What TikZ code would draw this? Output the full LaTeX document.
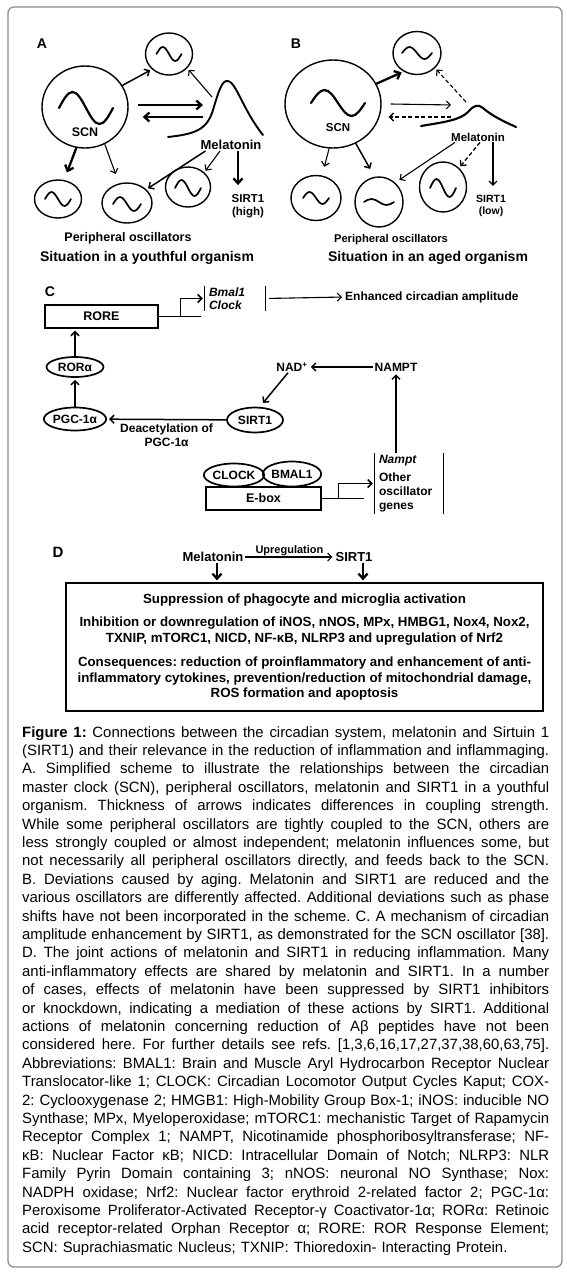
\documentclass[tikz,border=0pt]{standalone}
\usepackage{fontspec}
\setmainfont{Liberation Sans}
\frenchspacing
\usetikzlibrary{calc,arrows.meta,shapes.geometric,positioning}
\tikzset{
  lbl/.style={font=\bfseries\fontsize{12}{14}\selectfont, inner sep=1pt},
  title/.style={font=\bfseries\fontsize{14}{16}\selectfont, inner sep=1pt},
  osc/.style={ellipse, draw=black, line width=1.4pt, inner sep=0pt},
  wave/.style={line width=1.7pt, line cap=round},
  curve/.style={line width=1.9pt, line cap=round},
  arr/.style={-{Straight Barb[length=4pt,width=8pt]}, line width=1.5pt, shorten >=2pt},
  arr-thin/.style={arr, line width=1.1pt},
  arr-thick/.style={-{Straight Barb[length=5pt,width=9pt]}, line width=2.3pt, shorten >=2pt},
  arr-dash/.style={arr-thin, dash pattern=on 4pt off 2.5pt},
  genebox/.style={draw=black, line width=1.4pt, inner sep=0pt, font=\bfseries\fontsize{12.5}{14}\selectfont},
  prot/.style={ellipse, draw=black, line width=1.7pt, inner sep=0pt, font=\bfseries\fontsize{12}{14}\selectfont},
  bracket/.style={line width=1.2pt}
}
\newcommand{\oscwave}[4][]{% centre, half width, amplitude
  \draw[wave,#1] ($(#2)+(-#3,0)$) sin ++(#3/2,-#4) cos ++(#3/2,#4) sin ++(#3/2,#4) cos ++(#3/2,-#4);
}
\newcommand{\capline}[1]{\makebox[527pt][s]{\spaceskip=0.278em plus 1em minus 0.03em\relax #1}}

\begin{document}
\begin{tikzpicture}[x=1pt,y=-1pt]
  \useasboundingbox (0,0) rectangle (566,1272);
  % outer frame
  \draw[draw=black!45, line width=1.3pt, rounded corners=6pt] (8,7) rectangle (562,1267);

  % Panel A: youthful organism
  \node[title] (labA) at (42,44) {A};
  \node[osc, minimum width=86pt, minimum height=82pt] (scnA) at (85,107) {};
  \oscwave[line width=2.2pt]{86,108}{27}{16}
  \node[lbl, font=\bfseries\fontsize{12.5}{14}\selectfont] (scnAtxt) at (85,132) {SCN};
  \node[osc, minimum width=47pt, minimum height=42pt] (topA) at (169,54) {};
  \oscwave{169,54}{12.5}{7}
  \node[osc, minimum width=47pt, minimum height=38pt] (lowA1) at (58,199) {};
  \oscwave{58,199}{13}{7}
  \node[osc, minimum width=50pt, minimum height=40pt] (lowA2) at (127,203) {};
  \oscwave{127,204}{14}{7}
  \node[osc, minimum width=45pt, minimum height=40pt] (lowA3) at (188,187) {};
  \oscwave{188,188}{13}{8}
  % melatonin rhythm
  \draw[curve] (168,137) .. controls (195,134) and (207,130) .. (213,110)
    .. controls (219,90) and (222,80) .. (228,81) .. controls (236,82) and (243,110) .. (263,135);
  \coordinate (mcurveA-in) at (205,105);
  \coordinate (mcurveA-out) at (203,117);
  \coordinate (mcurveA-pk) at (212,97);
  \node[lbl, font=\bfseries\fontsize{13}{15}\selectfont] (melA) at (231,145) {Melatonin};
  \node[lbl, font=\bfseries\fontsize{11.5}{13}\selectfont, align=center] (sirtA) at (248,206) {SIRT1\\(high)};
  \node[lbl, font=\bfseries\fontsize{12.5}{14}\selectfont] (periA) at (128,238) {Peripheral oscillators};
  \node[title] (sitA) at (147,258) {Situation in a youthful organism};
  % couplings
  \draw[arr] (scnA.30) -- (topA.222);
  \draw[arr-thick] ($(scnA.east)+(9,-2)$) -- (mcurveA-in);
  \draw[arr-thick] (mcurveA-out) -- ($(scnA.east)+(12,10)$);
  \draw[arr-thin] (mcurveA-pk) -- (topA.-38);
  \draw[arr-thick, shorten >=8pt] (scnA.258) -- (lowA1.72);
  \draw[arr-thin, shorten >=10pt] (scnA.-62) -- (lowA2.112);
  \draw[arr] ([xshift=6pt]melA.south west) -- (lowA2.35);
  \draw[arr-thin] ([xshift=-11pt]melA.south) -- (lowA3.42);
  \draw[arr-thick, shorten >=8pt] ([xshift=7pt]melA.south) -- ([xshift=7pt]melA.south |- sirtA.north);

  % Panel B: aged organism
  \node[title] (labB) at (296,44) {B};
  \node[osc, minimum width=96pt, minimum height=88pt] (scnB) at (333,104) {};
  \oscwave[line width=2.2pt]{338,103}{27}{13}
  \node[lbl, font=\bfseries\fontsize{11.5}{13}\selectfont] (scnBtxt) at (338,128) {SCN};
  \node[osc, minimum width=48pt, minimum height=43pt] (topB) at (417,53) {};
  \oscwave{417,53}{15}{6}
  \node[osc, minimum width=50pt, minimum height=45pt] (lowB1) at (316,198) {};
  \oscwave{316,198}{13}{6}
  \node[osc, minimum width=48pt, minimum height=50pt] (lowB2) at (379,202) {};
  \oscwave{379,202}{15}{3}
  \node[osc, minimum width=47pt, minimum height=50pt] (lowB3) at (443,187) {};
  \oscwave{443,188}{13}{9}
  % damped melatonin rhythm
  \draw[curve, line width=2.1pt] (421,126) .. controls (445,122) and (460,120) .. (468,112)
    .. controls (474,105) and (478,104) .. (483,108) .. controls (492,116) and (505,122) .. (516,127);
  \coordinate (mcurveB-in) at (453,105);
  \coordinate (mcurveB-out) at (451,117);
  \coordinate (mcurveB-pk) at (466,102);
  \node[lbl, font=\bfseries\fontsize{11.5}{13}\selectfont] (melB) at (478,137) {Melatonin};
  \node[lbl, font=\bfseries\fontsize{10.5}{12.5}\selectfont, align=center] (sirtB) at (491,206) {SIRT1\\(low)};
  \node[lbl, font=\bfseries\fontsize{11.2}{13}\selectfont] (periB) at (391,240) {Peripheral oscillators};
  \node[title] (sitB) at (428,258) {Situation in an aged organism};
  % weakened couplings
  \draw[arr-thick] (scnB.25) -- (topB.234);
  \draw[arr-dash] (mcurveB-pk) -- (topB.-40);
  \draw[arr-thin] ([xshift=9pt]scnB.east) -- (mcurveB-in);
  \draw[arr-dash, line width=1.4pt] (mcurveB-out) -- ($(scnB.east)+(5,13)$);
  \draw[arr-thin, shorten >=9pt] (scnB.265) -- (lowB1.75);
  \draw[arr, shorten >=9pt] (scnB.-60) -- (lowB2.100);
  \draw[arr-thin, shorten >=5pt] ([xshift=5pt]melB.south west) -- (lowB2.50);
  \draw[arr-dash, line width=1.3pt] ([xshift=2pt]melB.south) -- (lowB3.50);
  \draw[arr-thin, shorten >=8pt] ([xshift=15pt]melB.south) -- ([xshift=15pt]melB.south |- sirtB.north);

  % Panel C: SIRT1 and circadian amplitude
  \node[title] (labC) at (50,292) {C};
  \node[genebox, minimum width=113pt, minimum height=23pt] (rore) at (101.5,316.5) {RORE};
  \node[lbl, font=\bfseries\itshape\fontsize{12}{13}\selectfont, align=left, text width=52pt, inner xsep=4pt, inner ysep=1.5pt] (bmal) at (235,298.5) {Bmal1\\Clock};
  \draw[bracket] (bmal.north west) -- (bmal.south west);
  \draw[bracket] (bmal.north east) -- (bmal.south east);
  \node[lbl, anchor=west] (ampl) at (344,297) {Enhanced circadian amplitude};
  \draw[line width=1.4pt] (rore.east) -- ++(42,0);
  \draw[arr] ($(rore.east)+(22,0)$) |- (bmal.west);
  \draw[arr-thin, shorten <=4pt] (bmal.east) -- (ampl.west);
  \node[prot, minimum width=57pt, minimum height=20pt] (rora) at (75,367) {RORα};
  \node[prot, minimum width=60pt, minimum height=23pt] (pgc) at (75,419) {PGC-1α};
  \node[prot, minimum width=56pt, minimum height=25pt] (sirtC) at (255,420) {SIRT1};
  \node[lbl] (nad) at (292,367) {NAD\textsuperscript{+}};
  \node[lbl] (nampt) at (396,367) {NAMPT};
  \draw[arr] (pgc) -- (rora);
  \draw[arr] (rora.north) -- (rora.north |- rore.south);
  \draw[arr] (sirtC) -- node[lbl, below=3pt, align=center] (deac) {Deacetylation of\\PGC-1α} (pgc);
  \draw[arr] (nampt) -- (nad);
  \draw[arr, shorten >=5pt] ([xshift=-4pt]nad.south) -- (sirtC.70);
  \node[genebox, minimum width=115pt, minimum height=23pt] (ebox) at (263.5,498.5) {E-box};
  \node[prot, minimum width=52pt, minimum height=23pt] (clock) at (234,475) {CLOCK};
  \node[prot, minimum width=58pt, minimum height=25pt] (bmal1) at (292,474) {BMAL1};
  \node[lbl, align=left, text width=60pt, inner xsep=4pt, inner ysep=2pt] (genes) at (409,483.5)
    {\textit{Nampt}\\[4pt]Other\\oscillator\\genes};
  \draw[bracket] (genes.north west) -- (genes.south west);
  \draw[bracket] (genes.north east) -- (genes.south east);
  \draw[line width=1.4pt] (ebox.east) -- ++(42,0);
  \draw[arr] ($(ebox.east)+(17,0)$) |- (genes.west);
  \draw[arr] (genes.north -| nampt) -- (nampt.south);

  % Panel D: joint anti-inflammatory actions
  \node[title, font=\bfseries\fontsize{15}{16}\selectfont] (labD) at (58,552) {D};
  \node[lbl, font=\bfseries\fontsize{13}{15}\selectfont] (melD) at (213,557) {Melatonin};
  \node[lbl, font=\bfseries\fontsize{13}{15}\selectfont] (sirtD) at (354,557) {SIRT1};
  \draw[arr-thin] (melD) -- node[lbl, font=\bfseries\fontsize{11}{13}\selectfont, above=0pt] (upD) {Upregulation} (sirtD);
  \node[draw=black, line width=1.3pt, minimum width=477pt, minimum height=128pt, align=center, inner sep=0pt,
    font=\bfseries\fontsize{13.3}{15.6}\selectfont] (actD) at (304.5,647)
    {Suppression of phagocyte and microglia activation\\[8pt]
     Inhibition or downregulation of iNOS, nNOS, MPx, HMBG1, Nox4, Nox2,\\
     TXNIP, mTORC1, NICD, NF-κB, NLRP3 and upregulation of Nrf2\\[8.5pt]
     Consequences: reduction of proinflammatory and enhancement of anti-\\
     inflammatory cytokines, prevention/reduction of mitochondrial damage,\\
     ROS formation and apoptosis};
  \draw[arr-thick] ([xshift=4pt]melD.south) -- ([xshift=4pt]melD.south |- actD.north);
  \draw[arr-thick] ([xshift=9pt]sirtD.south) -- ([xshift=9pt]sirtD.south |- actD.north);

  % caption
  \node[anchor=north west, inner sep=0pt, text width=527pt, align=left,
    font=\fontsize{14.9}{18.4}\selectfont] (capt) at (22,726) {%
    \capline{\textbf{Figure 1:} Connections between the circadian system, melatonin and Sirtuin 1}\\
    \capline{(SIRT1) and their relevance in the reduction of inflammation and inflammaging.}\\
    \capline{A. Simplified scheme to illustrate the relationships between the circadian}\\
    \capline{master clock (SCN), peripheral oscillators, melatonin and SIRT1 in a youthful}\\
    \capline{organism. Thickness of arrows indicates differences in coupling strength.}\\
    \capline{While some peripheral oscillators are tightly coupled to the SCN, others are}\\
    \capline{less strongly coupled or almost independent; melatonin influences some, but}\\
    \capline{not necessarily all peripheral oscillators directly, and feeds back to the SCN.}\\
    \capline{B. Deviations caused by aging. Melatonin and SIRT1 are reduced and the}\\
    \capline{various oscillators are differently affected. Additional deviations such as phase}\\
    \capline{shifts have not been incorporated in the scheme. C. A mechanism of circadian}\\
    \capline{amplitude enhancement by SIRT1, as demonstrated for the SCN oscillator [38].}\\
    \capline{D. The joint actions of melatonin and SIRT1 in reducing inflammation. Many}\\
    \capline{anti-inflammatory effects are shared by melatonin and SIRT1. In a number}\\
    \capline{of cases, effects of melatonin have been suppressed by SIRT1 inhibitors}\\
    \capline{or knockdown, indicating a mediation of these actions by SIRT1. Additional}\\
    \capline{actions of melatonin concerning reduction of Aβ peptides have not been}\\
    \capline{considered here. For further details see refs. [1,3,6,16,17,27,37,38,60,63,75].}\\
    \capline{Abbreviations: BMAL1: Brain and Muscle Aryl Hydrocarbon Receptor Nuclear}\\
    \capline{Translocator-like 1; CLOCK: Circadian Locomotor Output Cycles Kaput; COX-}\\
    \capline{2: Cyclooxygenase 2; HMGB1: High-Mobility Group Box-1; iNOS: inducible NO}\\
    \capline{Synthase; MPx, Myeloperoxidase; mTORC1: mechanistic Target of Rapamycin}\\
    \capline{Receptor Complex 1; NAMPT, Nicotinamide phosphoribosyltransferase; NF-}\\
    \capline{κB: Nuclear Factor κB; NICD: Intracellular Domain of Notch; NLRP3: NLR}\\
    \capline{Family Pyrin Domain containing 3; nNOS: neuronal NO Synthase; Nox:}\\
    \capline{NADPH oxidase; Nrf2: Nuclear factor erythroid 2-related factor 2; PGC-1α:}\\
    \capline{Peroxisome Proliferator-Activated Receptor-γ Coactivator-1α; RORα: Retinoic}\\
    \capline{acid receptor-related Orphan Receptor α; RORE: ROR Response Element;}\\
    SCN: Suprachiasmatic Nucleus; TXNIP: Thioredoxin- Interacting Protein.};
\end{tikzpicture}
\end{document}
